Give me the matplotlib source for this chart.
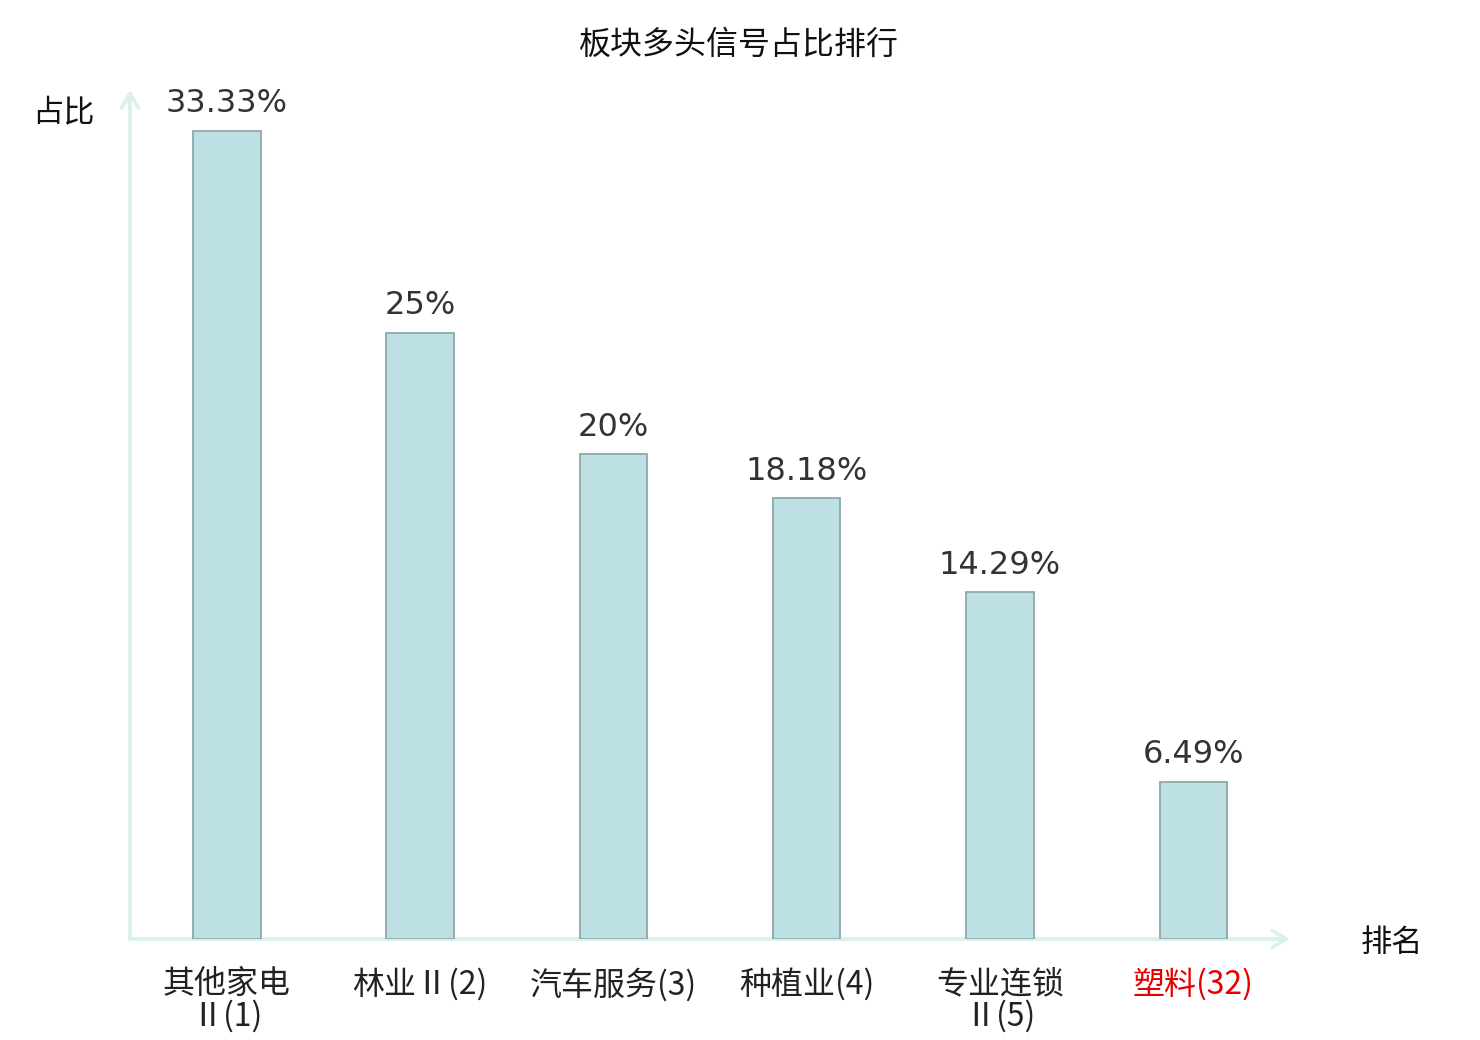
import matplotlib
matplotlib.use("Agg")
import matplotlib.pyplot as plt

plt.rcParams['font.family'] = ['Noto Sans CJK SC', 'DejaVu Sans']

categories = ["其他家电\nⅡ(1)", "林业Ⅱ(2)", "汽车服务(3)", "种植业(4)", "专业连锁\nⅡ(5)", "塑料(32)"]
values = [33.33, 25, 20, 18.18, 14.29, 6.49]
value_labels = ["33.33%", "25%", "20%", "18.18%", "14.29%", "6.49%"]
label_colors = ["#222222", "#222222", "#222222", "#222222", "#222222", "#e60000"]

fig = plt.figure(figsize=(14.8, 10.4), dpi=100)
ax = fig.add_axes([130/1480, 1-939/1040, (1290-130)/1480, (939-90)/1040])

x = list(range(len(values)))
bars = ax.bar(x, values, width=0.35, color="#bce0e3", edgecolor="#8fa9aa", linewidth=1.3, zorder=3)
ax.set_xlim(-0.5, 5.5)
ax.set_ylim(0, 35)

for xi, v, lab in zip(x, values, value_labels):
    ax.annotate(lab, (xi, v), xytext=(0, 8), textcoords="offset points",
                ha="center", va="bottom", fontsize=23, color="#333333",
                family=["DejaVu Sans"])

for s in ax.spines.values():
    s.set_visible(False)
ax.set_yticks([])
ax.set_xticks(x)
ax.set_xticklabels(categories, fontsize=23, linespacing=0.98)
for t, c in zip(ax.get_xticklabels(), label_colors):
    t.set_color(c)
ax.tick_params(axis="x", length=0, pad=21)

axis_color = "#dcf1ee"
for tip in [(0, 1.0), (1.0, 0)]:
    ax.annotate("", xy=tip, xytext=(0, 0), xycoords="axes fraction",
                arrowprops=dict(arrowstyle="->,head_length=1.0,head_width=0.6", color=axis_color, lw=2.8,
                                shrinkA=0, shrinkB=0), zorder=1)

fig.text(739/1480, 1-45/1040, "板块多头信号占比排行", ha="center", va="center", fontsize=23, color="#111111")
fig.text(63/1480, 1-112/1040, "占比", ha="center", va="center", fontsize=22.5, color="#111111")
fig.text(1392/1480, 1-943/1040, "排名", ha="center", va="center", fontsize=22.5, color="#111111")

fig.savefig("out.png", dpi=100)
